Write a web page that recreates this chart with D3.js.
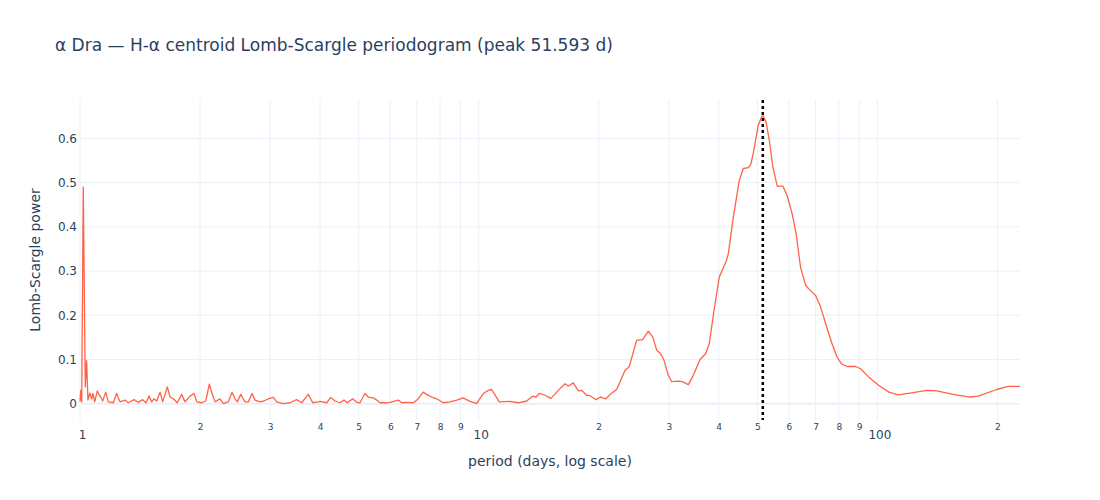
<!DOCTYPE html>
<html>
<head>
<meta charset="utf-8">
<script src="https://cdn.jsdelivr.net/npm/d3@7"></script>
<style>
    body { margin: 0; background: #fff; }
    text { font-family: "DejaVu Sans", verdana, arial, sans-serif; fill: #2a3f5f; }
</style>
</head>
<body>
<svg id="main-svg" width="1100" height="500"></svg>
<script>
// periodogram: period (days) and power
let period = [1.000, 1.004, 1.010, 1.019, 1.031, 1.039, 1.047, 1.059, 1.070, 1.078,
    1.089, 1.105, 1.118, 1.127, 1.140, 1.160, 1.178, 1.212, 1.236, 1.260,
    1.297, 1.322, 1.366, 1.400, 1.436, 1.464, 1.490, 1.513, 1.533, 1.557,
    1.588, 1.612, 1.656, 1.682, 1.714, 1.754, 1.799, 1.834, 1.887, 1.932,
    1.962, 2.020, 2.067, 2.111, 2.151, 2.182, 2.244, 2.288, 2.355, 2.406,
    2.448, 2.481, 2.530, 2.594, 2.644, 2.701, 2.748, 2.828, 2.894, 2.967,
    3.054, 3.114, 3.235, 3.363, 3.495, 3.597, 3.738, 3.835, 3.962, 4.000,
    4.157, 4.254, 4.361, 4.488, 4.593, 4.681, 4.830, 4.943, 5.038, 5.185,
    5.285, 5.442, 5.550, 5.655, 5.820, 5.991, 6.285, 6.410, 6.597, 6.853,
    7.041, 7.260, 7.404, 7.621, 7.845, 8.151, 8.473, 8.807, 9.149, 9.510,
    9.885, 10.27, 10.57, 10.78, 11.26, 11.98, 12.57, 13.19, 13.66, 13.92,
    14.19, 14.66, 15.18, 15.84, 16.46, 16.78, 17.27, 17.78, 18.13, 18.66,
    19.02, 19.69, 20.23, 20.86, 21.43, 22.19, 23.28, 23.86, 24.90, 25.78,
    26.63, 27.32, 27.96, 28.61, 29.16, 29.89, 30.48, 31.67, 32.41, 33.56,
    34.54, 35.90, 37.10, 37.88, 38.93, 40.14, 41.72, 42.28, 43.52, 45.05,
    46.10, 47.45, 48.11, 48.83, 50.26, 51.25, 51.593, 51.91, 52.60, 53.65,
    54.70, 56.08, 57.95, 59.37, 61.11, 62.54, 64.15, 66.04, 67.58, 69.97,
    72.02, 74.82, 77.01, 79.27, 81.31, 83.99, 88.17, 90.75, 95.21, 100.9,
    106.9, 112.6, 120.8, 132.9, 140.9, 155.0, 170.7, 179.1, 199.2, 213.0,
    227.9];
let power = [0.005, 0.030, 0.004, 0.490, 0.038, 0.097, 0.008, 0.024, 0.011, 0.023,
    0.004, 0.029, 0.019, 0.015, 0.006, 0.026, 0.004, 0.002, 0.023, 0.004,
    0.008, 0.002, 0.009, 0.003, 0.009, 0.002, 0.017, 0.004, 0.011, 0.006,
    0.026, 0.004, 0.038, 0.015, 0.011, 0.002, 0.021, 0.004, 0.017, 0.023,
    0.004, 0.002, 0.006, 0.044, 0.019, 0.004, 0.011, 0.000, 0.004, 0.026,
    0.011, 0.004, 0.021, 0.004, 0.004, 0.023, 0.008, 0.004, 0.006, 0.011,
    0.014, 0.004, 0.000, 0.002, 0.009, 0.002, 0.021, 0.002, 0.004, 0.005,
    0.002, 0.014, 0.006, 0.002, 0.008, 0.002, 0.011, 0.003, 0.002, 0.023,
    0.015, 0.013, 0.008, 0.002, 0.002, 0.003, 0.008, 0.002, 0.003, 0.002,
    0.010, 0.026, 0.021, 0.015, 0.011, 0.002, 0.004, 0.008, 0.013, 0.005,
    0.000, 0.023, 0.030, 0.032, 0.004, 0.005, 0.002, 0.006, 0.017, 0.015,
    0.023, 0.019, 0.012, 0.030, 0.045, 0.040, 0.047, 0.029, 0.030, 0.019,
    0.018, 0.009, 0.015, 0.011, 0.022, 0.032, 0.075, 0.084, 0.143, 0.145,
    0.164, 0.151, 0.121, 0.113, 0.098, 0.064, 0.050, 0.051, 0.050, 0.043,
    0.064, 0.100, 0.113, 0.136, 0.211, 0.287, 0.321, 0.339, 0.422, 0.505,
    0.532, 0.534, 0.541, 0.566, 0.630, 0.649, 0.652, 0.648, 0.637, 0.592,
    0.535, 0.492, 0.492, 0.471, 0.430, 0.385, 0.309, 0.268, 0.258, 0.245,
    0.219, 0.170, 0.135, 0.105, 0.090, 0.084, 0.084, 0.079, 0.060, 0.041,
    0.026, 0.020, 0.024, 0.030, 0.029, 0.021, 0.015, 0.017, 0.032, 0.039,
    0.039];

let peakPeriod = 51.593;
let yTicks = [0, 0.1, 0.2, 0.3, 0.4, 0.5, 0.6];
let xMajorTicks = [1, 10, 100];
let xMinorTicks = [2, 3, 4, 5, 6, 7, 8, 9, 20, 30, 40, 50, 60, 70, 80, 90, 200];

let titleText = "\u03b1 Dra \u2014 H-\u03b1 centroid Lomb-Scargle periodogram (peak " + peakPeriod + " d)";

let margin = { top: 100, right: 80, bottom: 80, left: 80 };
let width = 1100 - margin.left - margin.right;
let height = 500 - margin.top - margin.bottom;

let svg = d3.select("#main-svg");
let GridLayer = svg.append('g').attr("transform", "translate(" + margin.left + "," + margin.top + ")");
let PlotLayer = svg.append('g').attr("transform", "translate(" + margin.left + "," + margin.top + ")");
let UILayer = svg.append('g');

let data = period.map(function (p, i) { return { period: p, power: power[i] }; });

let x = d3.scaleLog().domain([1, d3.max(period)]).range([0, width]);
let y = d3.scaleLinear().domain([-0.037, 0.687]).range([height, 0]);

// grid
GridLayer.selectAll(".vgrid")
    .data(xMajorTicks.concat(xMinorTicks))
    .enter().append("line")
    .attr("x1", function (d) { return x(d); })
    .attr("x2", function (d) { return x(d); })
    .attr("y1", 0)
    .attr("y2", height)
    .attr("stroke", "#ebf0f8")
    .attr("stroke-width", 1);

GridLayer.selectAll(".hgrid")
    .data(yTicks)
    .enter().append("line")
    .attr("x1", 0)
    .attr("x2", width)
    .attr("y1", function (d) { return y(d); })
    .attr("y2", function (d) { return y(d); })
    .attr("stroke", "#ebf0f8")
    .attr("stroke-width", function (d) { return d == 0 ? 2 : 1; });

// y axis labels
let yAxis = d3.axisLeft(y).tickValues(yTicks).tickSize(0).tickPadding(3)
    .tickFormat(function (d) { return d == 0 ? "0" : d3.format(".1f")(d); });
let yAxisG = GridLayer.append("g").call(yAxis);
yAxisG.select(".domain").remove();
yAxisG.selectAll("text").style("font-size", "12px").style("font-family", null).attr("fill", "#2a3f5f");

// x axis: small labels for 2..9, larger ones for decades
let xMinorAxis = d3.axisBottom(x).tickValues(xMinorTicks).tickSize(0).tickPadding(0)
    .tickFormat(function (d) { return String(d).charAt(0); });
let xMinorG = GridLayer.append("g").attr("transform", "translate(0," + height + ")").call(xMinorAxis);
xMinorG.select(".domain").remove();
xMinorG.selectAll("text").attr("dy", null).attr("y", 9.5).style("font-size", "9px").attr("fill", "#2a3f5f");

let xMajorAxis = d3.axisBottom(x).tickValues(xMajorTicks).tickSize(0).tickPadding(0)
    .tickFormat(d3.format("d"));
let xMajorG = GridLayer.append("g").attr("transform", "translate(0," + height + ")").call(xMajorAxis);
xMajorG.select(".domain").remove();
xMajorG.selectAll("text").attr("dy", null).attr("y", 19).attr("dx", 2).style("font-size", "12px").attr("fill", "#2a3f5f");

// remove the default font set by d3 axes so the css one applies
svg.selectAll(".tick").each(function () { d3.select(this.parentNode).attr("font-family", null).attr("font-size", null); });

// periodogram line
let line = d3.line()
    .x(function (d) { return x(d.period); })
    .y(function (d) { return y(d.power); });

PlotLayer.append("path")
    .datum(data)
    .attr("fill", "none")
    .attr("stroke", "#ff6347")
    .attr("stroke-width", 1.3)
    .attr("stroke-linejoin", "round")
    .attr("d", line);

// peak marker
PlotLayer.append("line")
    .attr("x1", x(peakPeriod))
    .attr("x2", x(peakPeriod))
    .attr("y1", 0)
    .attr("y2", height)
    .attr("stroke", "#000")
    .attr("stroke-width", 2.5)
    .attr("stroke-dasharray", "3,3");

// titles
UILayer.append("text")
    .attr("x", 55)
    .attr("y", 51)
    .style("font-size", "17px")
    .text(titleText);

UILayer.append("text")
    .attr("x", margin.left + width / 2)
    .attr("y", 466)
    .style("text-anchor", "middle")
    .style("font-size", "14px")
    .text("period (days, log scale)");

UILayer.append("text")
    .attr("transform", "translate(40," + (margin.top + height / 2) + ") rotate(-90)")
    .style("text-anchor", "middle")
    .style("font-size", "14px")
    .text("Lomb-Scargle power");
</script>
</body>
</html>
